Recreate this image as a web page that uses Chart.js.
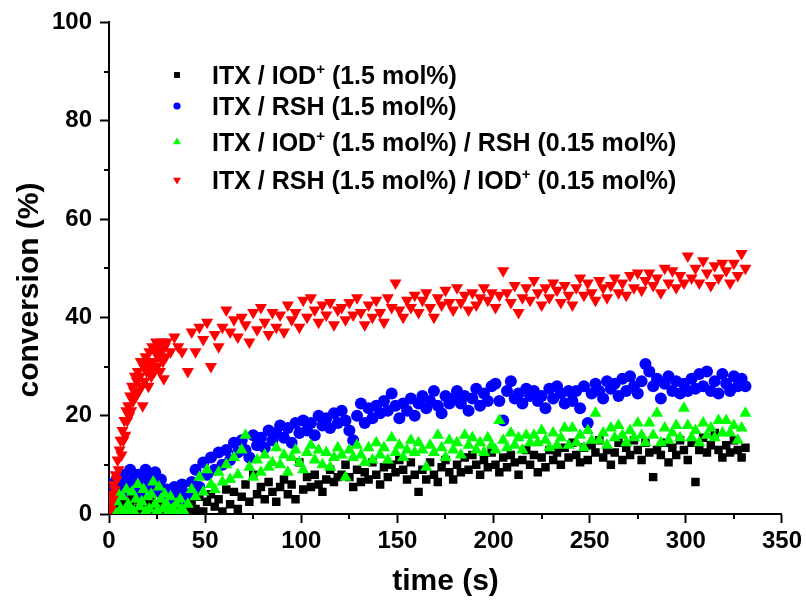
<!DOCTYPE html>
<html><head><meta charset="utf-8">
<script src="https://cdn.jsdelivr.net/npm/chart.js@4.4.0/dist/chart.umd.min.js"></script>
<style>html,body{margin:0;padding:0;background:#fff}canvas{display:block}</style>
</head><body>
<canvas id="c" width="806" height="606"></canvas>
<script>
// ---------- DATA ----------
const X_TITLE = 'time (s)';
const Y_TITLE = 'conversion (%)';
const X_TICKS = [0, 50, 100, 150, 200, 250, 300, 350];
const Y_TICKS = [0, 20, 40, 60, 80, 100];
const X_MINOR = [25, 75, 125, 175, 225, 275, 325];
const Y_MINOR = [10, 30, 50, 70, 90];

const SERIES_NAMES = [
  'ITX / IOD^+ (1.5 mol%)',
  'ITX / RSH (1.5 mol%)',
  'ITX / IOD^+ (1.5 mol%) / RSH (0.15 mol%)',
  'ITX / RSH (1.5 mol%) / IOD^+ (0.15 mol%)'
];

// sampling times (s)
const timeEarly = [0,1,2,3,4,5,6,7,8,9,10,11,12,13,14,15,16,17,18,19,20,21,22,23,24,25,26,27,28,29,30,31,32,33,34,35,36,37,38,39];
const timeRedEarly = [0,0.5,1,1.5,2,2.5,3,3.5,4,4.5,5,5.5,6,6.5,7,7.5,8,8.5,9,9.5,10,10.5,11,11.5,12,12.5,13,13.5,14,14.5,15,15.5,16,16.5,17,17.5,18,18.5,19,19.5,20,20.5,21,21.5,22,22.5,23,23.5,24,24.5,25,25.5,26,26.5,27,27.5,28,28.5,29,29.5,30,32,34,36,38];
const timeLate = [41,43,45,47,49,51,53,55,57,59,61,63,65,67,69,71,73,75,77,79,81,83,85,87,89,91,93,95,97,99,101,103,105,107,109,111,113,115,117,119,121,123,125,127,129,131,133,135,137,139,141,143,145,147,149,151,153,155,157,159,161,163,165,167,169,171,173,175,177,179,181,183,185,187,189,191,193,195,197,199,201,203,205,207,209,211,213,215,217,219,221,223,225,227,229,231,233,235,237,239,241,243,245,247,249,251,253,255,257,259,261,263,265,267,269,271,273,275,277,279,281,283,285,287,289,291,293,295,297,299,301,303,305,307,309,311,313,315,317,319,321,323,325,327,329,331];

// ITX / IOD+ (1.5 mol%)  -- black squares
const iodEarly = [0,0.5,1,0,1.5,0.5,2,0,1,2.5, 0.5,1.5,3,6.5,1,0,2,0.5,1.5,3, 0,1,2.5,0.5,1.5,0,2,1,0,1.5, 0.5,2,0,1,3,0.5,2.5,1,0,1.5];
const iodLate = [0.5,2,1,3.5,0.5,2.5,4,1.5,3,0.5, 5,2,4.5,1,3.5,6,2.5,8,4,5.5, 3,6.5,4.5,2.5,5.5,7,4,6,3,10.5, 5,7.5,5.5,8,6,4.5,7,9,6.5,7.5, 8,10,7.5,5.5,9,6.5,8.5,7,10.5,8, 6,9.5,7.5,10,8.5,11,9,7,10.5,8, 4.5,9,7,10.5,8,6.5,9.5,11,8.5,7, 10,8.5,11.5,9,12,10,8,11,9.5,12.5, 10,8.5,11.5,9.5,12,10.5,8,11,13,10, 12,8.5,11.5,9.5,13,11,12.5,10,13.5,11.5, 14.5,12,10.5,13.5,11,14,12.5,15,11.5,13, 10,12.5,14.5,11,13.5,12,15,13,11,14.5, 12.5,7.5,13,12,14.5,10.5,13.5,12,15,13, 11,14.5,6.5,13,15.5,12.5,14,16.5,13,11.5, 14,12.5,15,13,11.5,13.5];

// ITX / RSH (1.5 mol%)  -- blue circles
const rshEarly = [4,6,5,4.5,7,5,6,8,4.5,6.5, 5,9,6,7.5,5,8,6.5,4,7,9, 6,8,5.5,7,8.5,6,4.5,7,5,3.5, 5,2.5,4,2,5.5,3,4.5,2.5,6,4];
const rshLate = [4,6.5,9,5.5,10.5,8,11.5,9,12.5,10, 13,11,14.5,12.5,15,13,11.5,16,14,15.5, 13.5,17,15,16.5,18,15.5,17.5,14.5,18.5,16.5, 19,17,18.5,16,20,18,19.5,17.5,20.5,18.5, 21,19,17,15,20,22.5,18.5,21.5,19.5,22, 20.5,23,21,24.5,22,19.5,22.5,21,23.5,20, 22.5,24,21.5,23,25,22,20.5,24,22.5,23.5, 25,22.5,24,21,23.5,25.5,22,24.5,23,26, 26.5,23,19,25,27,23.5,24.5,22.5,25.5,24, 25,23,24,21.5,25.5,23.5,26,24.5,22.5,25, 23,25,21.5,26,18.5,24.5,26.5,25,23.5,27, 25.5,26.5,24,27.5,25,28,26,24.5,27,30.5, 29,26,27.5,23.5,26.5,28,25,27,24.5,26.5, 25,27.5,25.5,28.5,26,29,25,27,24.5,28.5, 26.5,25,28,26,27.5,26];

// ITX / IOD+ (1.5) / RSH (0.15)  -- green up triangles
const iodRshEarly = [0.5,1.5,3,0.5,2.5,4,1,3.5,0.5,5, 2,1,4.5,0.5,3,6,1.5,2.5,5,0.5, 3.5,1,4,6.5,2,0.5,5.5,3,1,4, 2,0.5,3.5,1,0.5,2,0,3,1,0.5];
const iodRshLate = [2,5,3.5,7.5,4.5,9,6,5,8.5,6.5, 10,7,11.5,8,13,16,9.5,7.5,11,8.5, 12,9.5,10.5,13.5,10,12,8.5,11.5,13,10.5, 9,12.5,14,11,13,10,12.5,9.5,11.5,13.5, 12,7.5,13,11.5,14,12,10.5,13.5,11,14.5, 12,13.5,11,15.5,12.5,14,11.5,13,15,12.5, 14.5,13,9.5,14,12.5,16,13.5,11.5,15,13, 14.5,12,16,14,15.5,13,14.5,12.5,15.5,14, 13,19,15,13.5,16.5,14,15.5,13,16,14.5, 16,14.5,17,15,13.5,16.5,14,15.5,17.5,14, 17.5,14.5,16,13.5,17,15,20.5,15,16.5,14, 17.5,15.5,18,16,14.5,17,15.5,18.5,16,14.5, 18.5,16,20.5,14.5,17.5,15,16.5,18,15.5,21.5, 18,15.5,17,14.5,18.5,16,17.5,15.5,19,16.5, 19,16.5,18,15,17.5,20.5];

// ITX / RSH (1.5) / IOD+ (0.15)  -- red down triangles
const rshIodEarly = [0.5,2,1,4,3,6,5,8,7,11, 9,13,15,12,17,15,19,16,21,19, 22,20,24,21,26,23,25,28,24,27, 29,25,28,31,26,22,30,27,32,29, 31,26,33,30,28,34,31,29,33,35, 30,32,34,29,33,35,31,27.5,34,32, 35, 33,36,34,33];
const rshIodLate = [29,37,33,38,35.5,39,30,36.5,34,38, 41.5,37,39.5,36,40,38.5,35,41,37.5,42, 39,36.5,41,38,40.5,37,42.5,39.5,41,38, 43.5,40,44,41.5,39,42.5,40.5,43,38.5,41.5, 42,39.5,43,40.5,44,41,38.5,42.5,40,43.5, 41,39,44,42,47,41.5,40,43.5,42,44.5, 41,43.5,45,42,40,44,42.5,45.5,43,41.5, 46,43,44.5,41.5,45,42.5,44,46,43.5,45, 42,44.5,49.5,45,43,46.5,41,44,46,43.5, 47.5,45,42.5,46,44,47,45.5,43,46.5,44.5, 42.5,46,48,44.5,47,45,43.5,47.5,46,44, 46.5,48,45,47,44.5,48.5,46,49,45.5,47.5, 49,46.5,48,45,50,47,49.5,46,48.5,47, 52.5,48,50,47,51.5,49,46.5,50.5,48,51, 49.5,47,51,48.5,53,50];

// ---------- BUILD ----------
function pts(tEarly, early, late) {
  const t = tEarly.concat(timeLate);
  const v = early.concat(late);
  return t.map((x, i) => ({ x: x, y: v[i] }));
}
const COLORS = ['#000000', '#0000ff', '#00ff00', '#ff0000'];
const STYLES = [
  { pointStyle: 'rect', radius: 6, rotation: 0, lr: 4.2 },
  { pointStyle: 'circle', radius: 6, rotation: 0, lr: 3.6 },
  { pointStyle: 'triangle', radius: 7, rotation: 0, lr: 4.6 },
  { pointStyle: 'triangle', radius: 7, rotation: 180, lr: 4.6 }
];
const VALUES = [
  pts(timeEarly, iodEarly, iodLate),
  pts(timeEarly, rshEarly, rshLate),
  pts(timeEarly, iodRshEarly, iodRshLate),
  pts(timeRedEarly, rshIodEarly, rshIodLate)
];

const datasets = VALUES.map((d, i) => ({
  label: SERIES_NAMES[i].replace('^+', '\u207A'),
  data: d,
  showLine: false,
  order: 4 - i,
  backgroundColor: COLORS[i],
  borderColor: COLORS[i],
  borderWidth: 0,
  pointStyle: STYLES[i].pointStyle,
  pointRotation: STYLES[i].rotation,
  pointRadius: STYLES[i].radius,
  pointHoverRadius: STYLES[i].radius
}));

const FONT = '"Liberation Sans", Arial, Helvetica, sans-serif';

const extras = {
  id: 'extras',
  afterDraw(chart) {
    const ctx = chart.ctx;
    const xs = chart.scales.x, ys = chart.scales.y;
    const ca = chart.chartArea;
    ctx.save();
    // minor ticks
    ctx.strokeStyle = '#000';
    ctx.lineWidth = 2;
    ctx.beginPath();
    Y_MINOR.forEach(v => {
      const p = Math.round(ys.getPixelForValue(v));
      ctx.moveTo(ca.left - 5, p); ctx.lineTo(ca.left, p);
    });
    X_MINOR.forEach(v => {
      const p = Math.round(xs.getPixelForValue(v));
      ctx.moveTo(p, ca.bottom); ctx.lineTo(p, ca.bottom + 5);
    });
    ctx.stroke();
    // y axis title
    ctx.save();
    ctx.translate(30, 290);
    ctx.rotate(-Math.PI / 2);
    ctx.font = 'bold 30px ' + FONT;
    ctx.fillStyle = '#000';
    ctx.textAlign = 'center';
    ctx.textBaseline = 'middle';
    ctx.fillText(Y_TITLE, 0, 0);
    ctx.restore();
    // legend
    const rows = [75, 106, 142, 180];
    const mx = 177, tx = 212;
    SERIES_NAMES.forEach((name, i) => {
      const y = rows[i];
      ctx.fillStyle = COLORS[i];
      Chart.helpers.drawPoint(ctx, { pointStyle: STYLES[i].pointStyle, rotation: STYLES[i].rotation, radius: STYLES[i].lr, borderWidth: 0 }, mx, y);
      ctx.fillStyle = '#000';
      ctx.textBaseline = 'alphabetic';
      ctx.textAlign = 'left';
      const base = y + 9;
      let x = tx;
      const parts = name.split('^+');
      parts.forEach((p, k) => {
        ctx.font = 'bold 25px ' + FONT;
        ctx.fillText(p, x, base);
        x += ctx.measureText(p).width;
        if (k < parts.length - 1) {
          ctx.font = 'bold 15px ' + FONT;
          ctx.fillText('+', x, base - 10);
          x += ctx.measureText('+').width;
        }
      });
    });
    ctx.restore();
  }
};

Chart.defaults.font.family = FONT;
Chart.defaults.color = '#000';

new Chart(document.getElementById('c'), {
  type: 'scatter',
  data: { datasets },
  options: {
    responsive: false,
    animation: false,
    events: [],
    layout: { padding: { top: 22, right: 23, left: 0, bottom: 0 } },
    plugins: { legend: { display: false }, tooltip: { enabled: false } },
    scales: {
      x: {
        type: 'linear', min: 0, max: 350,
        afterFit(s) { s.height = 92; },
        afterBuildTicks(s) { s.ticks = X_TICKS.map(v => ({ value: v })); },
        ticks: { color: '#000', font: { size: 24, weight: 'bold' }, padding: 4, maxRotation: 0, autoSkip: false },
        grid: { drawOnChartArea: false, drawTicks: true, tickLength: 9, tickWidth: 2, tickColor: '#000' },
        border: { display: true, color: '#000', width: 2 },
        title: { display: true, text: X_TITLE, color: '#000', font: { size: 30, weight: 'bold' }, padding: { top: 0, bottom: 6 } }
      },
      y: {
        type: 'linear', min: 0, max: 100,
        afterFit(s) { s.width = 109; },
        afterBuildTicks(s) { s.ticks = Y_TICKS.map(v => ({ value: v })); },
        ticks: { color: '#000', font: { size: 24, weight: 'bold' }, padding: 8, autoSkip: false },
        grid: { drawOnChartArea: false, drawTicks: true, tickLength: 9, tickWidth: 2, tickColor: '#000' },
        border: { display: true, color: '#000', width: 2 },
        title: { display: false, text: Y_TITLE }
      }
    }
  },
  plugins: [extras]
});
</script>
</body></html>
